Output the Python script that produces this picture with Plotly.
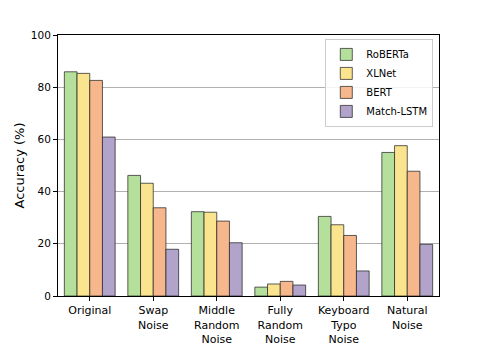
import plotly.graph_objects as go

categories = ["Original", "Swap<br>Noise", "Middle<br>Random<br>Noise", "Fully<br>Random<br>Noise",
              "Keyboard<br>Typo<br>Noise", "Natural<br>Noise"]
roberta = [85.9, 46.2, 32.3, 3.4, 30.5, 55.0]
xlnet = [85.3, 43.2, 32.1, 4.6, 27.3, 57.6]
bert = [82.6, 33.8, 28.7, 5.6, 23.2, 47.8]
match_lstm = [60.9, 17.9, 20.4, 4.2, 9.6, 19.8]

series = [
    ("RoBERTa", roberta, "#b5e09b"),
    ("XLNet", xlnet, "#fbe48e"),
    ("BERT", bert, "#f7b78c"),
    ("Match-LSTM", match_lstm, "#b1a3c9"),
]

fig = go.Figure()
for name, values, color in series:
    fig.add_trace(go.Bar(
        x=categories, y=values, name=name,
        marker={"color": color, "line": {"color": "rgba(40,40,40,0.75)", "width": 1}},
    ))

# page body keeps its default 8px margin, so the figure is 8px smaller
fig.update_layout(
    width=479, height=340,
    barmode="group", bargap=0.2, bargroupgap=0,
    plot_bgcolor="white", paper_bgcolor="white",
    font={"family": "DejaVu Sans", "size": 11, "color": "black"},
    margin={"l": 50, "r": 48, "t": 27, "b": 52},
    showlegend=True,
    legend={
        "x": 0.985, "y": 0.985, "xanchor": "right", "yanchor": "top",
        "bgcolor": "rgba(255,255,255,0.85)", "bordercolor": "#cccccc", "borderwidth": 1,
        "font": {"size": 10}, "tracegroupgap": 0, "itemwidth": 30,
    },
)
fig.update_xaxes(
    range=[-0.5, 5.5], showline=True, linecolor="black", linewidth=1, mirror=True,
    ticks="outside", ticklen=4, tickcolor="black", showgrid=False, automargin=False,
)
fig.update_yaxes(
    range=[0, 100], dtick=20, showline=True, linecolor="black", linewidth=1, mirror=True,
    ticks="outside", ticklen=4, tickcolor="black", tickfont={"size": 10.5},
    showgrid=True, gridcolor="#b0b0b0", gridwidth=1, zeroline=False, automargin=False,
    title={"text": "Accuracy (%)", "font": {"size": 13}, "standoff": 3},
)

fig.write_html("out.html")
